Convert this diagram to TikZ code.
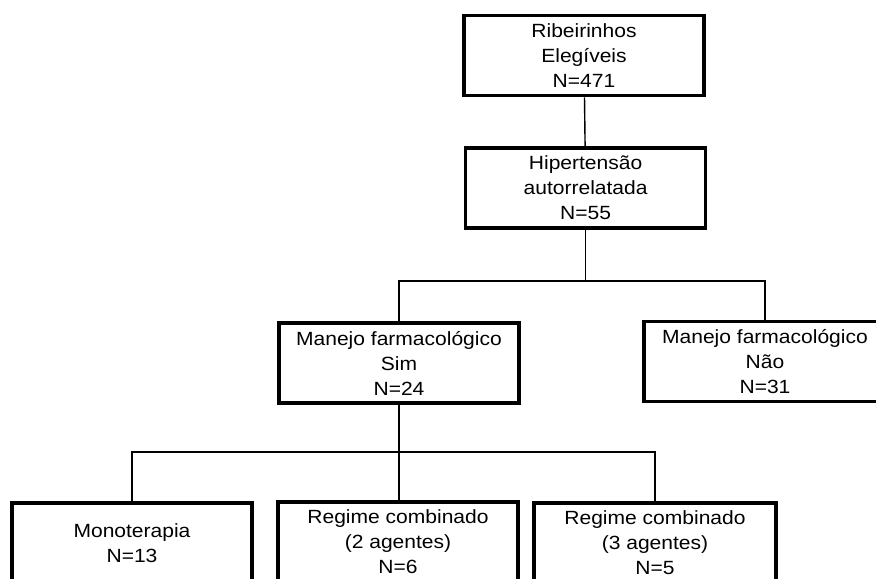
\documentclass[tikz,border=0pt]{standalone}
\usepackage{fontspec}
\setmainfont[FakeStretch=1.1]{Liberation Sans}
\begin{document}
\begin{tikzpicture}[line join=miter, font=\fontsize{13.6}{17.8}\selectfont]
			\tikzset{caixa/.style={draw, line width=2.6pt, minimum width=6cm, minimum height=2cm, align=center, inner sep=0pt},
				liga/.style={line width=1pt}}
			\useasboundingbox (0,0) rectangle (21.9,14.45);
			\clip (0,0) rectangle (21.9,14.45);
			% caixas
			\node[caixa] (eleg) at (14.6,13.06) {Ribeirinhos\\Elegíveis\\N=471};
			\node[caixa] (hip) at (14.64,9.75) {Hipertensão\\autorrelatada\\N=55};
			\node[caixa] (sim) at (9.975,5.375) {Manejo farmacológico\\Sim\\N=24};
			\node[caixa, minimum width=6.05cm] (nao) at (19.125,5.41) {Manejo farmacológico\\Não\\N=31};
			\node[caixa] (mono) at (3.3,0.875) {Monoterapia\\N=13};
			\node[caixa] (reg2) at (9.95,0.9) {Regime combinado\\(2 agentes)\\N=6};
			\node[caixa, minimum width=6.05cm] (reg3) at (16.375,0.875) {Regime combinado\\(3 agentes)\\N=5};
			% ligacoes
			\coordinate (r1) at (14.64,7.425);
			\coordinate (r2) at (9.975,3.15);
			\draw[liga] (eleg) -- (hip);
			\draw[liga] (hip) -- (r1);
			\draw[liga] (sim.north) |- (r1) -| (nao.north);
			\draw[liga] (sim) -- (r2);
			\draw[liga] (mono.north) |- (r2) -| (reg3.north);
			\draw[liga] (r2) -- (r2 |- reg2.north);
		\end{tikzpicture}
\end{document}
